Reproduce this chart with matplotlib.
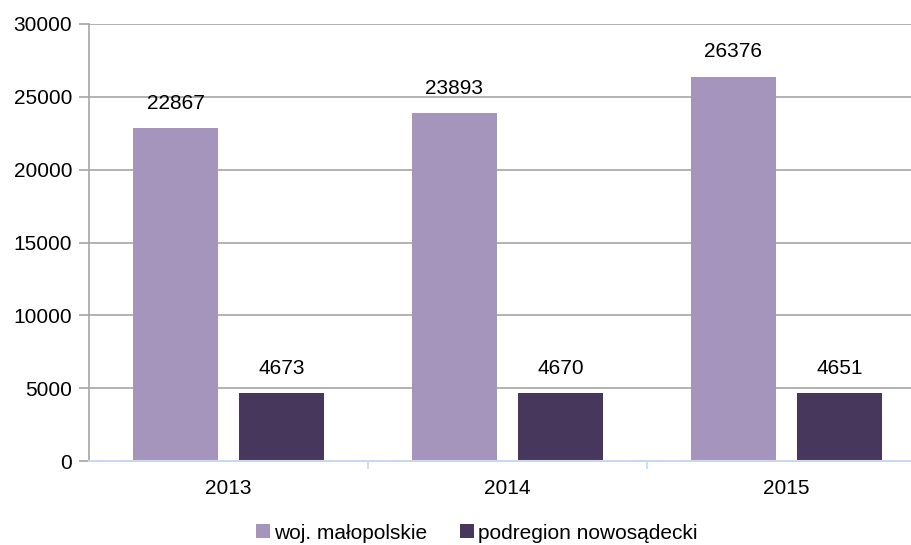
import matplotlib.pyplot as plt
import numpy as np

plt.rcParams['font.family'] = ['Liberation Sans', 'DejaVu Sans']

lata = ['2013', '2014', '2015']
malopolskie = [22867, 23893, 26376]
nowosadecki = [4673, 4670, 4651]
serie = ['woj. małopolskie', 'podregion nowosądecki']

fig = plt.figure(figsize=(9.12, 5.45), dpi=100)
ax = fig.add_axes([89 / 912, 0.154, 837 / 912, 0.802])

x = np.arange(len(lata))
w = 0.308
off = 0.19
b1 = ax.bar(x - off, malopolskie, w, color='#a595bc', label=serie[0], zorder=3)
b2 = ax.bar(x + off, nowosadecki, w, color='#48375c', label=serie[1], zorder=3)

for bars, vals in ((b1, malopolskie), (b2, nowosadecki)):
    for r, v in zip(bars, vals):
        ax.text(r.get_x() + r.get_width() / 2, v + 1050, str(v),
                ha='center', va='bottom', fontsize=15)

ax.set_xlim(-0.5, 2.5)
ax.set_ylim(0, 30000)
ax.set_yticks(range(0, 30001, 5000))
ax.yaxis.grid(True, color='#a6a6a6', linewidth=1.2, zorder=0)
ax.tick_params(axis='y', length=7, color='#a6a6a6', width=1.2, labelsize=15, pad=5)

ax.set_xticks(x)
ax.set_xticklabels(lata, fontsize=15)
ax.tick_params(axis='x', length=0, pad=13)
ax.set_xticks([0.5, 1.5], minor=True)
ax.tick_params(axis='x', which='minor', length=6, color='#c6d9f1', width=1.2)

for s in ('top', 'right'):
    ax.spines[s].set_visible(False)
ax.spines['left'].set_color('#a6a6a6')
ax.spines['left'].set_linewidth(1.2)
ax.spines['bottom'].set_color('#c6d9f1')
ax.spines['bottom'].set_linewidth(1.5)
ax.spines['bottom'].set_zorder(4)

fig.legend(handles=[b1, b2], loc='center', bbox_to_anchor=(0.523, 0.022),
           ncol=2, frameon=False, fontsize=15, handlelength=0.65, handleheight=0.65,
           handletextpad=0.2, columnspacing=1.6)

fig.savefig('out.png', dpi=100)
